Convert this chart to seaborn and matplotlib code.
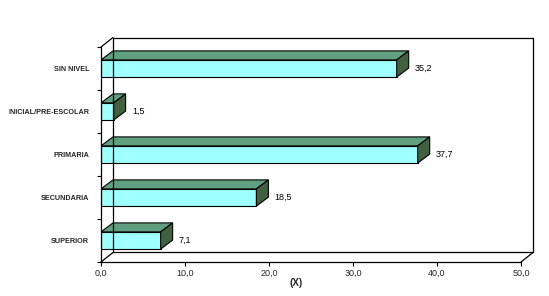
import matplotlib
matplotlib.use("Agg")
import matplotlib.pyplot as plt
import seaborn as sns
import pandas as pd
from matplotlib.patches import Polygon

categories = ["SIN NIVEL", "INICIAL/PRE-ESCOLAR", "PRIMARIA", "SECUNDARIA", "SUPERIOR"]
values = [35.2, 1.5, 37.7, 18.5, 7.1]
value_labels = ["35,2", "1,5", "37,7", "18,5", "7,1"]
x_ticks = [0, 10, 20, 30, 40, 50]
x_tick_labels = ["0,0", "10,0", "20,0", "30,0", "40,0", "50,0"]
x_title = "(X)"

sns.set_theme(style="white")
plt.rcParams['font.family'] = ['Liberation Sans', 'DejaVu Sans']

FRONT = "#A0FFFF"
TOP = "#609F80"
SIDE = "#406040"

W, H = 549, 296
fig = plt.figure(figsize=(W / 100, H / 100), dpi=100)
fig.patch.set_facecolor("white")

px_x = 8.4     # pixels per x unit
px_y = 43.0    # pixels per category band
wall_dx = 12 / px_x
wall_dy = 9.5 / px_y
bar_dx = 12 / px_x
bar_dy = 9 / px_y

xmax = 50 + wall_dx
ytop = -0.5 - wall_dy
left_px, bottom_px = 101, 262
width_px = xmax * px_x
height_px = (4.5 - ytop) * px_y
ax = fig.add_axes([left_px / W, 1 - bottom_px / H, width_px / W, height_px / H])

df = pd.DataFrame({"cat": categories, "val": values})
sns.barplot(data=df, y="cat", x="val", order=categories, orient="h",
            color=FRONT, saturation=1, width=0.4, edgecolor="black",
            linewidth=0.8, ax=ax, zorder=3)

for p in ax.patches[:len(categories)]:
    x0, y0 = p.get_x(), p.get_y()
    w, h = p.get_width(), p.get_height()
    x1 = x0 + w
    top = Polygon([(x0, y0), (x0 + bar_dx, y0 - bar_dy), (x1 + bar_dx, y0 - bar_dy), (x1, y0)],
                  closed=True, facecolor=TOP, edgecolor="black", linewidth=0.8, zorder=3)
    side = Polygon([(x1, y0), (x1 + bar_dx, y0 - bar_dy), (x1 + bar_dx, y0 + h - bar_dy), (x1, y0 + h)],
                   closed=True, facecolor=SIDE, edgecolor="black", linewidth=0.8, zorder=3)
    ax.add_patch(top)
    ax.add_patch(side)

for i, (v, lab) in enumerate(zip(values, value_labels)):
    ax.text(v + bar_dx + 0.75, i, lab, ha="left", va="center", fontsize=6.5, color="black")

# 3D frame lines
lk = dict(color="black", linewidth=0.9, clip_on=False, zorder=4)
ax.plot([0, 0], [-0.5, 4.5], **lk)                                 # front left
ax.plot([wall_dx, wall_dx], [ytop, 4.5 - wall_dy], **lk)           # back left
ax.plot([0, wall_dx], [-0.5, ytop], **lk)                          # top-left diagonal
ax.plot([0, wall_dx], [4.5, 4.5 - wall_dy], **lk)                  # bottom-left diagonal
ax.plot([wall_dx, xmax], [ytop, ytop], **lk)                       # top back
ax.plot([xmax, xmax], [ytop, 4.5 - wall_dy], **lk)                 # right back
ax.plot([wall_dx, xmax], [4.5 - wall_dy, 4.5 - wall_dy], **lk)     # floor back
ax.plot([0, 50], [4.5, 4.5], **lk)                                 # floor front
ax.plot([50, xmax], [4.5, 4.5 - wall_dy], **lk)                    # floor right diagonal

ax.set_xlim(0, xmax)
ax.set_ylim(4.5, ytop)
for s in ax.spines.values():
    s.set_visible(False)

ax.set_xticks(x_ticks)
ax.set_xticklabels(x_tick_labels, fontsize=6.5)
ax.tick_params(axis="x", direction="out", length=3, width=0.8, color="black", pad=2, bottom=True)
ax.set_yticks(range(len(categories)))
ax.set_yticklabels(categories, fontsize=5.2, fontweight="bold")
ax.tick_params(axis="y", which="major", length=0, pad=8.5)
ax.set_yticks([i - 0.5 for i in range(len(categories) + 1)], minor=True)
ax.tick_params(axis="y", which="minor", direction="out", length=3, width=0.8, color="black", left=True)
ax.set_xlabel("")
ax.set_ylabel("")
fig.text(296 / W, 1 - 283 / H, x_title, ha="center", va="center", fontsize=7, fontweight="bold")

fig.savefig("out.png", dpi=100, facecolor="white")
